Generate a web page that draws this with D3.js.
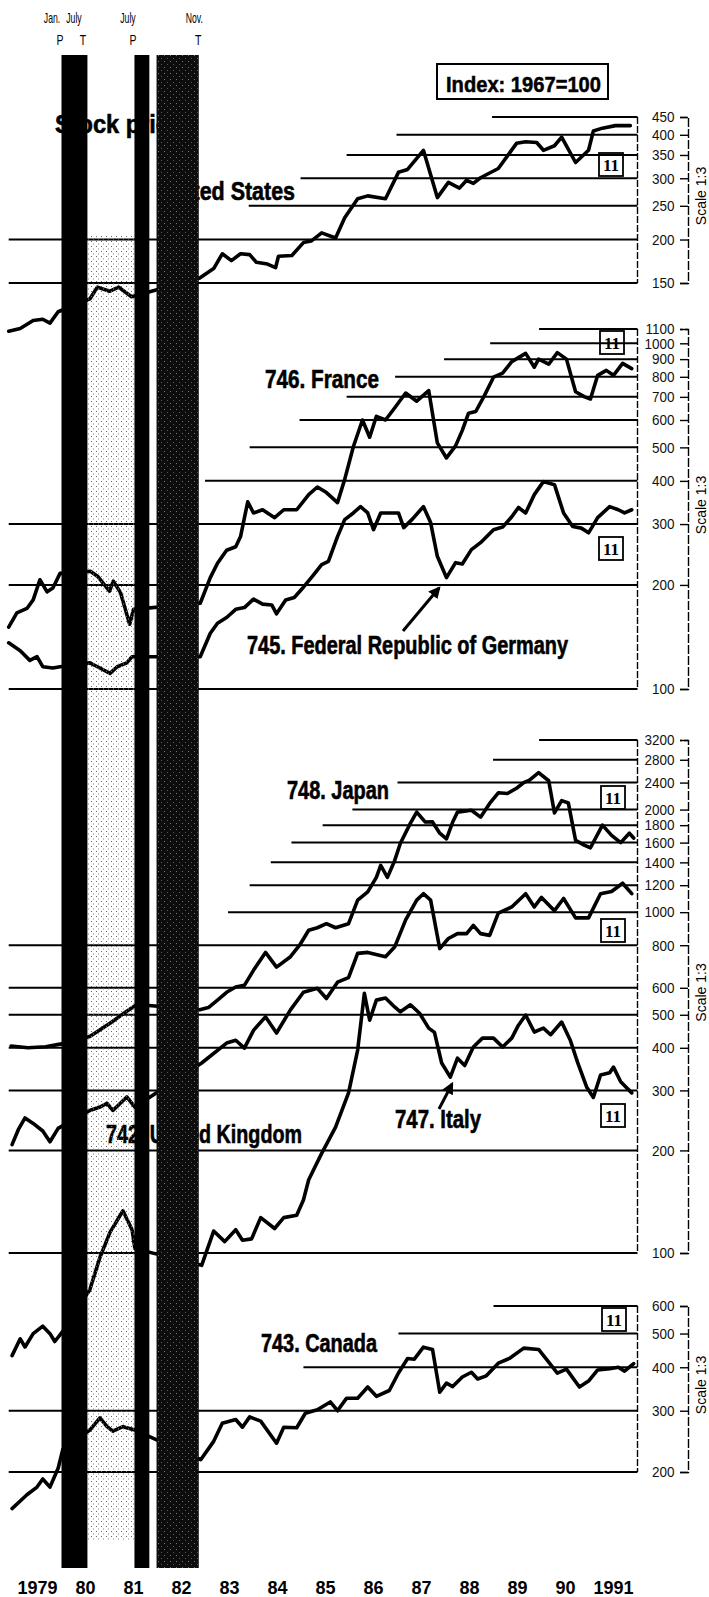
<!DOCTYPE html>
<html><head><meta charset="utf-8">
<script src="https://cdn.jsdelivr.net/npm/d3@7"></script>
<style>body{margin:0;background:#fff}svg{display:block}</style>
</head><body>
<svg id="chart" width="709" height="1597"></svg>
<script>
// ---------------- data ----------------
const yearLabels = ["1979","80","81","82","83","84","85","86","87","88","89","90","1991"];
const recessionBars = [[1980.0, 1980.54], [1981.52, 1981.83], [1981.98, 1982.86]];
const turningDates = [1980.0, 1980.5, 1981.5, 1982.87];
const turningMonths = ["Jan.", "July", "July", "Nov."];
const turningCodes = ["P", "T", "P", "T"];

const usTicks = [150, 200, 250, 300, 350, 400, 450];
const usGridFrom = [1978.9, 1978.9, 1983.9, 1984.98, 1985.94, 1986.98, 1988.97];
const euTicks = [100, 200, 300, 400, 500, 600, 700, 800, 900, 1000, 1100];
const euGridFrom = [1978.9, 1978.9, 1978.9, 1982.99, 1983.92, 1984.96, 1985.94, 1986.95, 1987.97, 1988.93, 1989.95];
const asiaTicks = [100, 200, 300, 400, 500, 600, 800, 1000, 1200, 1400, 1600, 1800, 2000, 2400, 2800, 3200];
const asiaGridFrom = [1978.9, 1978.9, 1978.9, 1978.9, 1978.9, 1978.9, 1978.9, 1983.47, 1983.92, 1984.36, 1984.79, 1985.44, 1986.06, 1987.0, 1988.99, 1989.95];
const caTicks = [200, 300, 400, 500, 600];
const caGridFrom = [1978.9, 1978.9, 1985.04, 1987.02, 1989.0];

const unitedStates = [[1978.9,109],[1979.14,111],[1979.41,117],[1979.61,118],[1979.76,115],[1979.93,124],[1980.59,135],[1980.75,146],[1981.0,142],[1981.19,146],[1981.46,137],[1982.88,155],[1983.17,165],[1983.35,182],[1983.54,174],[1983.73,182],[1983.92,181],[1984.06,172],[1984.29,170],[1984.46,166],[1984.52,179],[1984.8,180],[1985.04,196],[1985.2,198],[1985.42,209],[1985.71,202],[1985.9,231],[1986.17,262],[1986.38,267],[1986.75,262],[1987.02,312],[1987.21,318],[1987.54,361],[1987.83,264],[1988.06,292],[1988.29,281],[1988.44,296],[1988.58,290],[1988.73,301],[1989.1,320],[1989.48,378],[1989.67,382],[1989.9,380],[1990.04,361],[1990.27,372],[1990.42,394],[1990.71,333],[1990.98,361],[1991.08,410],[1991.27,418],[1991.54,425],[1991.85,425]];
const france = [[1978.9,151],[1979.07,166],[1979.28,171],[1979.41,181],[1979.55,207],[1979.7,191],[1979.82,196],[1979.97,216],[1980.6,219],[1980.75,212],[1981.0,192],[1981.08,205],[1981.23,190],[1981.42,154],[1981.5,170],[1982.89,177],[1983.1,210],[1983.25,231],[1983.44,252],[1983.63,258],[1983.73,276],[1983.88,348],[1984.0,323],[1984.19,330],[1984.44,313],[1984.63,330],[1984.9,330],[1985.15,365],[1985.33,384],[1985.52,370],[1985.75,346],[1985.9,404],[1986.08,502],[1986.27,600],[1986.42,535],[1986.56,615],[1986.75,600],[1986.94,650],[1987.17,718],[1987.4,680],[1987.65,730],[1987.83,515],[1988.02,466],[1988.21,505],[1988.35,560],[1988.48,628],[1988.63,635],[1988.81,706],[1989.0,798],[1989.19,820],[1989.38,885],[1989.67,935],[1989.85,853],[1989.94,900],[1990.15,870],[1990.33,940],[1990.52,900],[1990.71,724],[1990.9,700],[1991.02,690],[1991.17,808],[1991.35,835],[1991.5,808],[1991.69,875],[1991.88,845]];
const germany = [[1978.9,136],[1979.14,129],[1979.34,121],[1979.49,124],[1979.61,116],[1979.82,115],[1979.97,116],[1980.59,119],[1980.8,115],[1981.01,111],[1981.16,116],[1981.36,119],[1981.47,124],[1982.89,124],[1983.1,145],[1983.25,155],[1983.44,161],[1983.63,170],[1983.81,172],[1984.0,182],[1984.19,176],[1984.38,175],[1984.48,165],[1984.67,181],[1984.85,184],[1985.04,197],[1985.23,212],[1985.42,229],[1985.56,234],[1985.75,276],[1985.9,309],[1986.08,323],[1986.23,337],[1986.38,323],[1986.5,289],[1986.65,323],[1986.83,323],[1987.02,323],[1987.13,293],[1987.31,310],[1987.54,337],[1987.69,303],[1987.83,242],[1988.02,210],[1988.21,232],[1988.35,230],[1988.54,253],[1988.73,265],[1989.0,289],[1989.19,294],[1989.38,315],[1989.52,335],[1989.67,323],[1989.85,365],[1990.04,398],[1990.27,390],[1990.46,323],[1990.65,295],[1990.83,292],[1990.98,283],[1991.17,313],[1991.42,337],[1991.6,330],[1991.73,323],[1991.88,330]];
const japan = [[1978.95,405],[1979.3,400],[1979.67,403],[1979.97,410],[1980.59,432],[1981.01,472],[1981.36,512],[1981.57,536],[1982.88,517],[1983.06,525],[1983.25,552],[1983.44,582],[1983.63,603],[1983.81,610],[1984.0,675],[1984.25,762],[1984.48,690],[1984.77,740],[1984.96,800],[1985.15,885],[1985.33,900],[1985.52,925],[1985.71,900],[1985.98,925],[1986.17,1085],[1986.38,1147],[1986.56,1265],[1986.65,1372],[1986.79,1265],[1986.94,1416],[1987.06,1593],[1987.27,1825],[1987.4,1966],[1987.58,1838],[1987.73,1840],[1987.88,1705],[1988.02,1641],[1988.15,1838],[1988.25,1966],[1988.54,1990],[1988.73,1900],[1988.92,2085],[1989.1,2240],[1989.29,2230],[1989.48,2310],[1989.63,2400],[1989.75,2440],[1989.94,2568],[1990.15,2430],[1990.27,1955],[1990.42,2125],[1990.56,2090],[1990.71,1625],[1990.9,1570],[1991.02,1545],[1991.27,1800],[1991.46,1680],[1991.65,1600],[1991.83,1705],[1991.92,1650]];
const unitedKingdom = [[1978.97,208],[1979.1,230],[1979.24,249],[1979.41,240],[1979.61,228],[1979.76,212],[1979.93,232],[1980.59,262],[1980.8,268],[1980.95,275],[1981.07,262],[1981.36,287],[1981.53,268],[1982.92,361],[1983.44,413],[1983.63,421],[1983.81,399],[1984.0,450],[1984.25,493],[1984.48,442],[1984.77,517],[1985.04,582],[1985.33,598],[1985.52,558],[1985.75,623],[1985.98,643],[1986.17,757],[1986.38,762],[1986.75,740],[1986.94,790],[1987.17,949],[1987.4,1085],[1987.54,1133],[1987.69,1085],[1987.88,782],[1988.06,837],[1988.25,865],[1988.44,865],[1988.58,915],[1988.73,865],[1988.92,855],[1989.1,993],[1989.38,1036],[1989.67,1133],[1989.85,1036],[1990.0,1105],[1990.27,1010],[1990.46,1097],[1990.71,962],[1990.98,962],[1991.23,1133],[1991.46,1150],[1991.69,1216],[1991.88,1133]];
const italy = [[1978.97,50],[1979.14,56],[1979.24,53],[1979.41,58],[1979.61,61],[1979.76,58],[1979.86,55],[1980.03,59],[1980.59,78],[1980.8,97],[1981.01,115],[1981.28,133],[1981.47,117],[1981.53,103],[1982.92,92],[1983.17,116],[1983.4,108],[1983.63,117],[1983.77,109],[1983.96,110],[1984.15,127],[1984.44,118],[1984.63,127],[1984.9,129],[1985.04,143],[1985.15,164],[1985.42,196],[1985.71,234],[1985.98,295],[1986.17,394],[1986.31,578],[1986.42,482],[1986.56,552],[1986.75,560],[1986.94,527],[1987.06,510],[1987.27,535],[1987.46,505],[1987.65,457],[1987.77,444],[1987.92,361],[1988.1,328],[1988.25,373],[1988.4,355],[1988.58,402],[1988.77,427],[1989.0,427],[1989.19,402],[1989.38,427],[1989.52,466],[1989.67,499],[1989.85,445],[1990.04,457],[1990.19,437],[1990.42,476],[1990.6,421],[1990.75,363],[1990.94,307],[1991.08,286],[1991.23,333],[1991.42,338],[1991.5,351],[1991.65,318],[1991.88,295]];
const canada = [[1978.97,157],[1979.28,172],[1979.49,181],[1979.61,191],[1979.76,181],[1979.93,205],[1980.03,233],[1980.59,264],[1980.8,286],[1980.95,270],[1981.07,262],[1981.28,270],[1981.53,264],[1982.9,217],[1983.17,245],[1983.35,276],[1983.63,283],[1983.77,269],[1983.92,288],[1984.15,280],[1984.48,242],[1984.63,269],[1984.9,268],[1985.08,295],[1985.33,302],[1985.6,318],[1985.75,300],[1985.94,326],[1986.17,326],[1986.38,351],[1986.56,330],[1986.83,343],[1987.02,385],[1987.21,424],[1987.35,422],[1987.54,457],[1987.73,450],[1987.88,339],[1988.02,360],[1988.15,352],[1988.35,375],[1988.54,387],[1988.67,370],[1988.85,378],[1989.1,411],[1989.33,424],[1989.63,454],[1989.94,450],[1990.15,414],[1990.33,385],[1990.52,395],[1990.79,351],[1990.98,365],[1991.17,393],[1991.42,396],[1991.6,400],[1991.73,390],[1991.92,410]];

// ---------------- layout ----------------
const svg = d3.select("#chart");
const x = d3.scaleLinear().domain([1979, 1992]).range([13.5, 637.5]);
const FONT = "'Liberation Sans', Arial, sans-serif";

const panels = [
  {domain:[150,450],  range:[283,117],  ticks:usTicks,   gridFrom:usGridFrom,   series:[unitedStates]},
  {domain:[100,1100], range:[689,329],  ticks:euTicks,   gridFrom:euGridFrom,   series:[france, germany]},
  {domain:[100,3200], range:[1253,740], ticks:asiaTicks, gridFrom:asiaGridFrom, series:[japan, unitedKingdom, italy]},
  {domain:[200,600],  range:[1472,1306],ticks:caTicks,   gridFrom:caGridFrom,   series:[canada]}
];

const defs = svg.append("defs");
const pat = defs.append("pattern").attr("id","stipple").attr("width",5).attr("height",5).attr("patternUnits","userSpaceOnUse");
pat.append("rect").attr("x",1).attr("y",1).attr("width",1).attr("height",1).attr("fill","#666");
pat.append("rect").attr("x",3).attr("y",3.5).attr("width",1).attr("height",1).attr("fill","#888");
const pat2 = defs.append("pattern").attr("id","screen").attr("width",6).attr("height",6).attr("patternUnits","userSpaceOnUse");
pat2.append("rect").attr("width",6).attr("height",6).attr("fill","#0d0d0d");
pat2.append("rect").attr("x",2).attr("y",1).attr("width",1).attr("height",1).attr("fill","#777");
pat2.append("rect").attr("x",5).attr("y",4).attr("width",1).attr("height",1).attr("fill","#555");
defs.append("marker").attr("id","arrow").attr("viewBox","0 0 10 10").attr("refX",8).attr("refY",5)
  .attr("markerWidth",4).attr("markerHeight",4).attr("orient","auto")
  .append("path").attr("d","M0,0L10,5L0,10z").attr("fill","#000");

const gGrid = svg.append("g");
const gLines = svg.append("g");
const gLabels = svg.append("g");
const gBars = svg.append("g");
const gTop = svg.append("g");

panels.forEach(p => {
  const y = d3.scaleLog().domain(p.domain).range(p.range);
  p.y = y;
  gGrid.selectAll(null).data(p.ticks).join("line")
    .attr("x1",(d,i)=>x(p.gridFrom[i])).attr("x2",x(1992))
    .attr("y1",d=>y(d)).attr("y2",d=>y(d))
    .attr("stroke","#000").attr("stroke-width",2);
  gGrid.append("line").attr("x1",x(1992)).attr("x2",x(1992))
    .attr("y1",y(p.domain[1])).attr("y2",y(p.domain[0]))
    .attr("stroke","#000").attr("stroke-width",1.4).attr("stroke-dasharray","7,2");
  const ax = gTop.append("g").attr("transform","translate(688,0)")
    .call(d3.axisLeft(y).tickValues(p.ticks).tickFormat(d3.format("d")).tickSize(8).tickSizeOuter(8).tickPadding(7));
  ax.select(".domain").attr("stroke-width",1.4).attr("stroke-dasharray","9,2");
  ax.selectAll(".tick line").attr("stroke-width",1.4);
  ax.selectAll(".tick text").attr("font-family",FONT).attr("font-size",15).attr("fill","#111")
    .attr("transform","scale(0.9,1)");
  gTop.append("text").attr("transform",`translate(706,${(p.range[0]+p.range[1])/2 - 4}) rotate(-90)`)
    .attr("text-anchor","middle").attr("font-family",FONT).attr("font-size",14).text("Scale 1:3");
  const line = d3.line().x(d=>x(d[0])).y(d=>y(d[1]));
  p.series.forEach(s => {
    gLines.append("path").datum(s).attr("d",line).attr("fill","none").attr("stroke","#000")
      .attr("stroke-width",3.6).attr("stroke-linejoin","round").attr("stroke-linecap","round");
  });
});

gBars.append("rect").attr("x",x(recessionBars[0][1])).attr("width",x(recessionBars[1][0])-x(recessionBars[0][1]))
  .attr("y",235).attr("height",1305).attr("fill","url(#stipple)");
gBars.selectAll(null).data(recessionBars).join("rect")
  .attr("x",d=>x(d[0])).attr("width",d=>x(d[1])-x(d[0]))
  .attr("y",55).attr("height",1513)
  .attr("fill",(d,i)=> i===2 ? "url(#screen)" : "#000");

// turning point labels (month above, P/T below), condensed
const monthShift = [-9.5, -11.5, -5.5, -5];
const codeShift = [-1.5, -2.5, -0.5, -1];
turningDates.forEach((d,i) => {
  gTop.append("g").attr("transform",`translate(${x(d)+monthShift[i]},23) scale(0.62,1)`)
    .append("text").attr("text-anchor","middle").attr("font-family",FONT).attr("font-size",14)
    .text(turningMonths[i]);
  gTop.append("g").attr("transform",`translate(${x(d)+codeShift[i]},45) scale(0.75,1)`)
    .append("text").attr("text-anchor","middle").attr("font-family",FONT).attr("font-size",14)
    .text(turningCodes[i]);
});

gTop.selectAll(null).data(yearLabels).join("text")
  .attr("x",(d,i)=>x(1979.5+i)).attr("y",1594).attr("text-anchor","middle")
  .attr("font-family",FONT).attr("font-weight","bold").attr("font-size",18).text(d=>d);

const labelLayout = [
  {text:"Stock prices", x:55, y:133, w:140},
  {text:"United States", x:158, y:200, w:137},
  {text:"746. France", x:265, y:388, w:114},
  {text:"745. Federal Republic of Germany", x:247, y:654, w:321},
  {text:"748. Japan", x:287, y:799, w:102},
  {text:"742. United Kingdom", x:106, y:1143, w:196},
  {text:"747. Italy", x:395, y:1128, w:86},
  {text:"743. Canada", x:261, y:1352, w:116}
];
gLabels.selectAll(null).data(labelLayout).join("text")
  .attr("x",d=>d.x).attr("y",d=>d.y).attr("textLength",d=>d.w).attr("lengthAdjust","spacingAndGlyphs")
  .attr("font-family",FONT).attr("font-weight","bold").attr("font-size",25).attr("fill","#000")
  .attr("stroke","#000").attr("stroke-width",0.6).text(d=>d.text);

gLabels.append("line").attr("x1",403).attr("y1",631).attr("x2",439).attr("y2",588)
  .attr("stroke","#000").attr("stroke-width",3).attr("marker-end","url(#arrow)");
gLabels.append("line").attr("x1",439).attr("y1",1109).attr("x2",452).attr("y2",1084)
  .attr("stroke","#000").attr("stroke-width",3).attr("marker-end","url(#arrow)");

const boxes = [[599,153],[600,331],[599,537],[601,786],[601,919],[601,1104],[602,1308]];
boxes.forEach(b => {
  gTop.append("rect").attr("x",b[0]).attr("y",b[1]).attr("width",24).attr("height",23)
    .attr("fill","none").attr("stroke","#000").attr("stroke-width",1.8);
  gTop.append("text").attr("x",b[0]+12).attr("y",b[1]+18).attr("text-anchor","middle")
    .attr("font-family","'Liberation Serif', serif").attr("font-weight","bold").attr("font-size",17).text("11");
});

gTop.append("rect").attr("x",437).attr("y",64).attr("width",171).attr("height",35)
  .attr("fill","none").attr("stroke","#000").attr("stroke-width",2);
gTop.append("text").attr("x",446).attr("y",92).attr("textLength",155).attr("lengthAdjust","spacingAndGlyphs")
  .attr("font-family",FONT).attr("font-weight","bold").attr("font-size",22).attr("stroke","#000").attr("stroke-width",0.5)
  .text("Index: 1967=100");
</script>
</body></html>
